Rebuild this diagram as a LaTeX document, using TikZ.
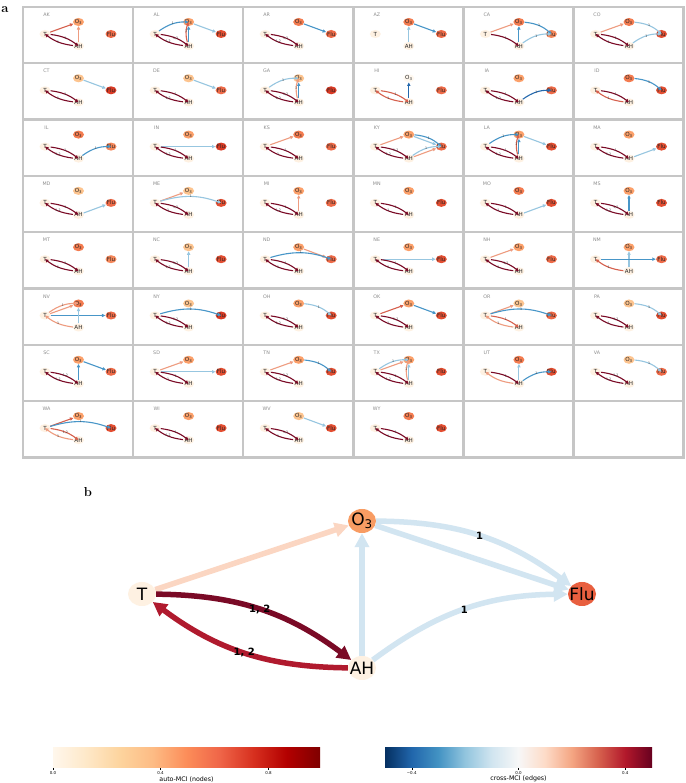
\documentclass[tikz,border=0pt]{standalone}
\usepackage{fontspec}
\setsansfont{DejaVu Sans}
\usetikzlibrary{arrows.meta,shapes.geometric}
% node colours (OrRd)
\definecolor{nP}{HTML}{FEF1E2}
\definecolor{oW}{HTML}{FFF8EF}
\definecolor{oLo}{HTML}{FDC48F}
\definecolor{oMd}{HTML}{FCA06A}
\definecolor{oHi}{HTML}{F47C50}
\definecolor{fA}{HTML}{F5875A}
\definecolor{fB}{HTML}{EE6A47}
\definecolor{fC}{HTML}{E34E31}
\definecolor{fD}{HTML}{D93A24}
% edge colours (RdBu_r)
\definecolor{eDR}{HTML}{7A0A26}
\definecolor{eRD}{HTML}{B01A2E}
\definecolor{eRS}{HTML}{D6604D}
\definecolor{eSA}{HTML}{EE9C80}
\definecolor{ePE}{HTML}{FBD6C2}
\definecolor{eLB}{HTML}{97C6E0}
\definecolor{eMB}{HTML}{4896C8}
\definecolor{eDB}{HTML}{2468AD}
\definecolor{bBL}{HTML}{D2E5F1}
\definecolor{bO}{HTML}{F89C63}
\definecolor{bF}{HTML}{E85F3F}
\definecolor{gridgray}{HTML}{C6C6C6}
% colour bars
\definecolor{cA0}{HTML}{FFF7EC}\definecolor{cA1}{HTML}{FEE8C8}\definecolor{cA2}{HTML}{FDD49E}
\definecolor{cA3}{HTML}{FDBB84}\definecolor{cA4}{HTML}{FC8D59}\definecolor{cA5}{HTML}{EF6548}
\definecolor{cA6}{HTML}{D7301F}\definecolor{cA7}{HTML}{B30000}\definecolor{cA8}{HTML}{7F0000}
\definecolor{cB0}{HTML}{053061}\definecolor{cB1}{HTML}{2166AC}\definecolor{cB2}{HTML}{4393C3}
\definecolor{cB3}{HTML}{92C5DE}\definecolor{cB4}{HTML}{D1E5F0}\definecolor{cB5}{HTML}{F7F7F7}
\definecolor{cB6}{HTML}{FDDBC7}\definecolor{cB7}{HTML}{F4A582}\definecolor{cB8}{HTML}{D6604D}
\definecolor{cB9}{HTML}{B2182B}\definecolor{cB10}{HTML}{67001F}
\pgfdeclarehorizontalshading{orrdsh}{100bp}{color(0bp)=(cA0); color(25bp)=(cA0); color(31.25bp)=(cA1); color(37.5bp)=(cA2); color(43.75bp)=(cA3); color(50bp)=(cA4); color(56.25bp)=(cA5); color(62.5bp)=(cA6); color(68.75bp)=(cA7); color(75bp)=(cA8); color(100bp)=(cA8)}
\pgfdeclarehorizontalshading{rdbush}{100bp}{color(0bp)=(cB0); color(25bp)=(cB0); color(30bp)=(cB1); color(35bp)=(cB2); color(40bp)=(cB3); color(45bp)=(cB4); color(50bp)=(cB5); color(55bp)=(cB6); color(60bp)=(cB7); color(65bp)=(cB8); color(70bp)=(cB9); color(75bp)=(cB10); color(100bp)=(cB10)}
\tikzset{
  sn/.style={ellipse, minimum width=11pt, minimum height=8pt, inner sep=0pt, text=black!85,
    font=\sffamily\fontsize{5.6}{6}\selectfont},
  se/.style={line width=1.1pt, -{Triangle[length=3.4pt,width=3.2pt]}},
  sl/.style={font=\sffamily\fontsize{3.2}{3.4}\selectfont, text=black!75, inner sep=0pt},
  pb/.style={draw=gridgray, line width=2.4pt},
  stl/.style={font=\sffamily\fontsize{4.8}{5}\selectfont, text=black!45, inner sep=0pt},
  bn/.style={ellipse, minimum width=28pt, minimum height=24pt, inner sep=0pt,
    font=\sffamily\fontsize{17}{19}\selectfont},
  be/.style={line width=5.5pt, -{Triangle[length=14pt,width=14pt]}},
  bl/.style={font=\sffamily\bfseries\fontsize{10}{11}\selectfont, text=black, inner sep=0pt},
  tkl/.style={font=\sffamily\fontsize{4}{4.5}\selectfont, inner sep=0pt},
  axl/.style={font=\sffamily\fontsize{6.3}{7}\selectfont, inner sep=0pt},
  plab/.style={font=\bfseries\fontsize{13}{14}\selectfont, inner sep=0pt}
}
\newcommand\eS[3]{\draw[se,#1] (#2) -- (#3);}
\newcommand\eC[4]{\draw[se,#1] (#2) to[bend left=18] node[sl]{#4} (#3);}
\newcommand\eCn[3]{\draw[se,#1] (#2) to[bend left=15] (#3);}
\newcommand\ePr[4]{\draw[se,#1] (T) to[bend left=15] node[sl]{#2} (A);\draw[se,#3] (A) to[bend left=15] node[sl]{#4} (T);}
\newcommand\stpanel[6]{%
\begin{scope}[shift={({23+110.1*#1},{776-56.3*#2})},name prefix=#3-]
\draw[pb] (0,0) rectangle (110.1,-56.3);
\node[stl] (lab) at (23.5,-7.8) {#3};
\node[sn,fill=nP] (T) at (22,-27) {\makebox[0pt]{T}};
\node[sn,fill=#4] (O) at (55.5,-15) {\makebox[0pt]{O\textsubscript{3}}};
\node[sn,fill=nP] (A) at (55.5,-39) {\makebox[0pt]{AH}};
\node[sn,fill=#5] (F) at (88,-27) {\makebox[0pt]{Flu}};
#6
\end{scope}}
\begin{document}
\begin{tikzpicture}[x=1pt,y=1pt]
\useasboundingbox (0,0) rectangle (685,783);
\fill[white] (0,0) rectangle (685,783);
\node[plab] (la) at (5,773) {a};
\node[plab] (lb) at (88,291) {b};
% ---------- panel a ----------
\stpanel{0}{0}{AK}{oMd}{fB}{\eS{eRS}{T}{O}\eS{eSA}{A}{O}\ePr{eDR}{1}{eDR}{1}}
\stpanel{1}{0}{AL}{oMd}{fC}{\eC{eMB}{T}{O}{1}\eS{eLB}{O}{F}\eS{eMB}{A}{O}\eC{eRS}{A}{O}{1}\ePr{eDR}{1,2}{eDR}{1,2}}
\stpanel{2}{0}{AR}{oHi}{fB}{\eS{eMB}{O}{F}\ePr{eDR}{1,2}{eDR}{1,2}}
\stpanel{3}{0}{AZ}{oHi}{fB}{\eS{eLB}{A}{O}\eS{eMB}{O}{F}}
\stpanel{4}{0}{CA}{oHi}{fA}{\eS{eSA}{T}{O}\eC{eMB}{O}{F}{1}\eS{eMB}{A}{O}\eC{eLB}{A}{F}{1}\draw[se,eDR] (T) to[bend left=15] node[sl]{1} (A);}
\stpanel{5}{0}{CO}{oHi}{fC}{\eS{eSA}{T}{O}\eC{eLB}{O}{F}{1}\eC{eLB}{A}{F}{1}\ePr{eDR}{1}{eDR}{1}}
\stpanel{0}{1}{CT}{oLo}{fD}{\eS{eLB}{O}{F}\ePr{eDR}{1}{eDR}{1}}
\stpanel{1}{1}{DE}{oLo}{fB}{\eS{eLB}{O}{F}\ePr{eDR}{1}{eDR}{1,2}}
\stpanel{2}{1}{GA}{oLo}{fD}{\eC{eLB}{T}{O}{1}\eS{eMB}{A}{O}\eC{eSA}{A}{O}{1}\ePr{eDR}{1,2}{eDR}{1,2}}
\stpanel{3}{1}{HI}{oW}{fB}{\eS{eDB}{A}{O}\ePr{eRS}{1}{eRS}{1}}
\stpanel{4}{1}{IA}{oMd}{fB}{\eC{eDB}{A}{F}{1}\ePr{eDR}{1}{eDR}{1,2}}
\stpanel{5}{1}{ID}{oHi}{fC}{\eC{eMB}{O}{F}{1}\ePr{eDR}{1}{eRS}{1}}
\stpanel{0}{2}{IL}{oHi}{fA}{\eC{eMB}{A}{F}{1}\ePr{eDR}{1}{eDR}{1,2}}
\stpanel{1}{2}{IN}{oMd}{fD}{\eS{eLB}{T}{F}\ePr{eDR}{1}{eDR}{1,2}}
\stpanel{2}{2}{KS}{oHi}{fB}{\eS{eSA}{T}{O}\ePr{eDR}{1}{eDR}{1}}
\stpanel{3}{2}{KY}{oMd}{fB}{\eS{eSA}{T}{O}\eC{eMB}{O}{F}{1}\eS{eLB}{O}{F}\eC{eLB}{A}{F}{1}\eS{eSA}{A}{F}\ePr{eDR}{1,2}{eDR}{1,2}}
\stpanel{4}{2}{LA}{oMd}{fC}{\eC{eMB}{T}{O}{1}\eS{eLB}{O}{F}\eS{eMB}{A}{O}\eC{eRS}{A}{O}{1}\ePr{eDR}{1}{eDR}{1,2}}
\stpanel{5}{2}{MA}{oMd}{fC}{\eS{eLB}{A}{F}\ePr{eDR}{1}{eDR}{1,2}}
\stpanel{0}{3}{MD}{oLo}{fB}{\eS{eLB}{A}{F}\ePr{eDR}{1}{eDR}{1,2}}
\stpanel{1}{3}{ME}{oLo}{fC}{\eS{eSA}{T}{O}\eC{eLB}{T}{F}{1}\ePr{eDR}{1,2}{eDR}{1}}
\stpanel{2}{3}{MI}{oMd}{fB}{\eS{eSA}{A}{O}\ePr{eDR}{1}{eDR}{1,2}}
\stpanel{3}{3}{MN}{oMd}{fC}{\ePr{eDR}{1}{eDR}{1}}
\stpanel{4}{3}{MO}{oHi}{fC}{\eS{eLB}{A}{F}\ePr{eDR}{1}{eDR}{1}}
\stpanel{5}{3}{MS}{oMd}{fC}{\eS{eMB}{A}{O}\ePr{eDR}{1,2}{eDR}{1,2}}
\stpanel{0}{4}{MT}{oHi}{fA}{\ePr{eDR}{1}{eDR}{1}}
\stpanel{1}{4}{NC}{oLo}{fC}{\eS{eLB}{A}{O}\ePr{eDR}{1,2}{eDR}{1,2}}
\stpanel{2}{4}{ND}{oMd}{fB}{\eS{eSA}{O}{F}\eC{eMB}{T}{F}{1}\ePr{eDR}{1}{eDR}{1}}
\stpanel{3}{4}{NE}{oMd}{fC}{\eS{eLB}{T}{F}\ePr{eDR}{1}{eDR}{1}}
\stpanel{4}{4}{NH}{oMd}{fB}{\eS{eSA}{T}{O}\ePr{eDR}{1,2}{eDR}{1}}
\stpanel{5}{4}{NM}{oMd}{fB}{\eS{eLB}{A}{O}\eS{eMB}{T}{F}\draw[se,eRS] (A) to[bend left=15] node[sl]{1} (T);}
\stpanel{0}{5}{NV}{oHi}{fB}{\eC{eSA}{T}{O}{1}\eS{eSA}{T}{O}\eS{eMB}{T}{F}\eS{eLB}{A}{O}\draw[se,eSA] (A) to[bend left=15] node[sl]{1} (T);}
\stpanel{1}{5}{NY}{oLo}{fD}{\eC{eMB}{T}{F}{1}\ePr{eDR}{1,2}{eDR}{1,2}}
\stpanel{2}{5}{OH}{oMd}{fC}{\eC{eLB}{O}{F}{1}\ePr{eDR}{1,2}{eDR}{1,2}}
\stpanel{3}{5}{OK}{oMd}{fC}{\eS{eRS}{T}{O}\eS{eMB}{O}{F}\ePr{eDR}{1,2}{eDR}{1}}
\stpanel{4}{5}{OR}{oLo}{fB}{\eS{eSA}{T}{O}\eC{eMB}{T}{F}{1}\ePr{eRS}{1}{eSA}{1}}
\stpanel{5}{5}{PA}{oLo}{fC}{\eC{eLB}{O}{F}{1}\ePr{eDR}{1,2}{eDR}{1}}
\stpanel{0}{6}{SC}{oMd}{fB}{\eS{eMB}{A}{O}\eS{eMB}{O}{F}\ePr{eDR}{1,2}{eDR}{1,2}}
\stpanel{1}{6}{SD}{oMd}{fC}{\eS{eSA}{T}{O}\eS{eLB}{T}{F}\ePr{eDR}{1}{eDR}{1}}
\stpanel{2}{6}{TN}{oMd}{fC}{\eS{eSA}{T}{O}\eC{eMB}{O}{F}{1}\ePr{eDR}{1,2}{eDR}{1,2}}
\stpanel{3}{6}{TX}{oMd}{fC}{\eC{eLB}{T}{O}{1}\eS{eSA}{T}{O}\eS{eLB}{A}{O}\eC{eSA}{A}{O}{1}\ePr{eDR}{1}{eDR}{1,2}}
\stpanel{4}{6}{UT}{oHi}{fC}{\eS{eLB}{A}{O}\eC{eMB}{A}{F}{1}\draw[se,eDR] (T) to[bend left=15] node[sl]{1} (A);\eCn{eSA}{A}{T}}
\stpanel{5}{6}{VA}{oLo}{fB}{\eC{eLB}{O}{F}{1}\ePr{eDR}{1,2}{eDR}{1,2}}
\stpanel{0}{7}{WA}{oMd}{fC}{\eS{eRS}{T}{O}\eC{eMB}{T}{F}{1}\ePr{eRS}{1,2}{eSA}{1}}
\stpanel{1}{7}{WI}{oMd}{fC}{\ePr{eDR}{1}{eDR}{1,2}}
\stpanel{2}{7}{WV}{oLo}{fC}{\eS{eLB}{O}{F}\ePr{eDR}{1,2}{eDR}{1}}
\stpanel{3}{7}{WY}{oHi}{fC}{\ePr{eDR}{1}{eDR}{1}}
\draw[pb] ({23+110.1*4},{776-56.3*7}) rectangle ++(110.1,-56.3);
\draw[pb] ({23+110.1*5},{776-56.3*7}) rectangle ++(110.1,-56.3);
% ---------- panel b ----------
\node[bn,fill=nP] (bT) at (142,189) {\makebox[0pt]{T}};
\node[bn,fill=bO] (bO) at (362,262) {\makebox[0pt]{O\textsubscript{3}}};
\node[bn,fill=nP] (bA) at (362,115) {\makebox[0pt]{AH}};
\node[bn,fill=bF] (bF) at (582,189) {\makebox[0pt]{Flu}};
\draw[be,ePE] (bT) -- (bO);
\draw[be,bBL] (bO) -- (bF);
\draw[be,bBL] (bA) -- (bO);
\draw[be,bBL] (bO) to[bend left=18] node[bl]{1} (bF);
\draw[be,bBL] (bA) to[bend left=18] node[bl]{1} (bF);
\draw[be,eRD] (bA) to[bend left=18] node[bl]{1, 2} (bT);
\draw[be,eDR] (bT) to[bend left=18] node[bl]{1, 2} (bA);
% ---------- colour bars ----------
\shade[shading=orrdsh] (53,15) rectangle (320,35);
\shade[shading=rdbush] (385,15) rectangle (652,35);
\foreach \xx/\tt [count=\i] in {53/0.0,160.6/0.4,268.5/0.8}{
  \draw[line width=0.4pt] (\xx,15) -- (\xx,12.5);
  \node[tkl] (ta\i) at (\xx,9.5) {\tt};
}
\foreach \xx/\tt [count=\i] in {411.7/−0.4,518.5/0.0,625.3/0.4}{
  \draw[line width=0.4pt] (\xx,15) -- (\xx,12.5);
  \node[tkl] (tb\i) at (\xx,9.5) {\tt};
}
\node[axl] (axa) at (186.5,3.8) {auto-MCI (nodes)};
\node[axl] (axb) at (518.5,3.8) {cross-MCI (edges)};
\end{tikzpicture}
\end{document}
